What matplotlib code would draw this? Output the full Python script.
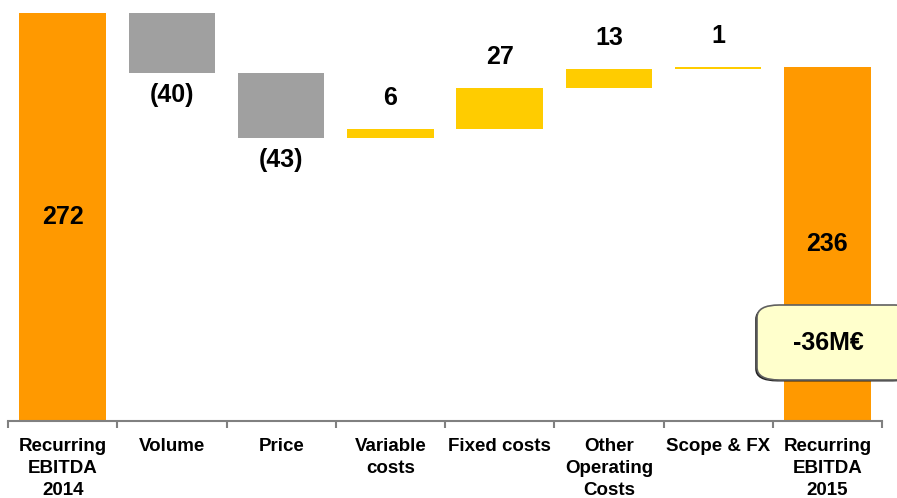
import matplotlib
matplotlib.use('Agg')
import matplotlib.pyplot as plt
from matplotlib.patches import FancyBboxPatch
import numpy as np

plt.rcParams['font.family'] = ['Liberation Sans', 'DejaVu Sans']

# Datos del puente de EBITDA recurrente (M€)
categorias = ['Recurring\nEBITDA\n2014', 'Volume', 'Price', 'Variable\ncosts',
              'Fixed costs', 'Other\nOperating\nCosts', 'Scope & FX',
              'Recurring\nEBITDA\n2015']
inicio = 272
variaciones = [-40, -43, 6, 27, 13, 1]
final = 236
total_texto = '-36M€'

NARANJA = '#FF9900'
GRIS = '#A0A0A0'
AMARILLO = '#FFCC00'

fig = plt.figure(figsize=(8.97, 4.98), dpi=100)
ax = fig.add_axes([8 / 897, 1 - 421 / 498, 874 / 897, 408 / 498])

ancho = 0.79
x = np.arange(len(categorias))

# Barras de total
ax.bar(0, inicio, width=ancho, color=NARANJA)
ax.bar(len(categorias) - 1, final, width=ancho, color=NARANJA)
ax.text(0, inicio / 2, str(inicio), ha='center', va='center',
        fontsize=18, fontweight='bold')
ax.text(len(categorias) - 1, final / 2, str(final), ha='center', va='center',
        fontsize=18, fontweight='bold')

# Barras flotantes de variación
nivel = inicio
for i, v in enumerate(variaciones, start=1):
    base = nivel + v if v < 0 else nivel
    color = GRIS if v < 0 else AMARILLO
    ax.bar(i, abs(v), bottom=base, width=ancho, color=color)
    if v < 0:
        ax.annotate(f'({abs(v)})', (i, base), xytext=(0, -16),
                    textcoords='offset points', ha='center', va='center',
                    fontsize=18, fontweight='bold')
    else:
        ax.annotate(str(v), (i, base + v), xytext=(0, 22),
                    textcoords='offset points', ha='center', va='center',
                    fontsize=18, fontweight='bold')
    nivel += v

ax.set_xlim(-0.5, len(categorias) - 0.5)
ax.set_ylim(0, inicio)

for s in ['top', 'right', 'left']:
    ax.spines[s].set_visible(False)
ax.spines['bottom'].set_color('#808080')
ax.spines['bottom'].set_linewidth(1.5)
ax.set_yticks([])

ax.set_xticks(x)
ax.set_xticklabels(categorias, fontsize=13.5, fontweight='bold',
                   linespacing=1.36, va='top')
ax.tick_params(axis='x', which='major', length=0, pad=12.5)
ax.set_xticks(np.arange(-0.5, len(categorias)), minor=True)
ax.tick_params(axis='x', which='minor', length=5, width=1.5, color='#808080')

# Recuadro con la variación total
sombra = FancyBboxPatch((757 / 897 - 0.002, 1 - 380 / 498 - 0.003),
                        160 / 897, 75 / 498,
                        boxstyle='round,pad=0,rounding_size=0.025',
                        transform=fig.transFigure, facecolor='#202020',
                        edgecolor='none', zorder=5)
caja = FancyBboxPatch((757 / 897, 1 - 380 / 498), 160 / 897, 75 / 498,
                      boxstyle='round,pad=0,rounding_size=0.025',
                      transform=fig.transFigure, facecolor='#FFFFCC',
                      edgecolor='#606060', linewidth=1.2, zorder=6)
fig.patches.extend([sombra, caja])
fig.text(828 / 897, 1 - 343 / 498, total_texto, ha='center', va='center',
         fontsize=18, fontweight='bold', zorder=7)

fig.savefig('out.png', dpi=100)
